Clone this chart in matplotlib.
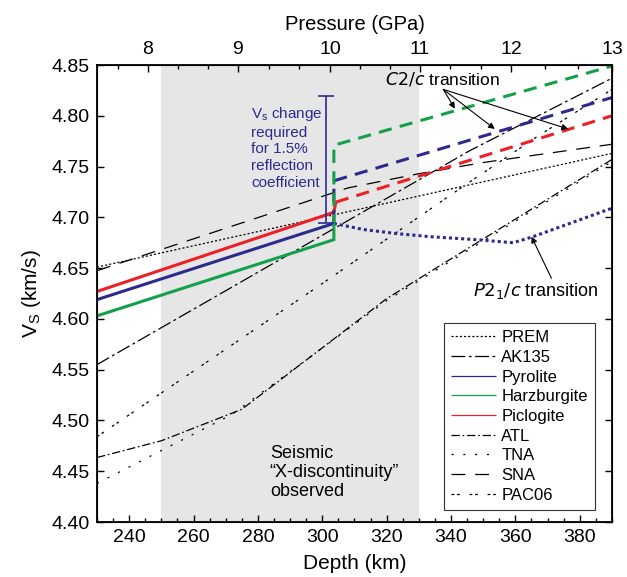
import matplotlib
matplotlib.use("Agg")
import matplotlib.pyplot as plt
import numpy as np

plt.rcParams['font.family'] = ['Liberation Sans', 'DejaVu Sans']
plt.rcParams['mathtext.default'] = 'regular'
plt.rcParams['lines.scale_dashes'] = False

# ---- data (depth km, Vs km/s) ----
prem_d = [230, 390]
prem_v = [4.651, 4.763]
ak135_d = [230, 346, 390]
ak135_v = [4.555, 4.766, 4.837]
atl_d = [230, 250, 275, 320, 390]
atl_v = [4.4635, 4.480, 4.511, 4.620, 4.757]
tna_d = [230, 272, 320, 390]
tna_v = [4.438, 4.506, 4.618, 4.755]
sna_d = [230, 308, 330, 350, 390]
sna_v = [4.6475, 4.729, 4.743, 4.754, 4.772]
pac06_d = [230, 301, 344, 367, 390]
pac06_v = [4.484, 4.637, 4.731, 4.780, 4.826]

pyr_solid_d = [230, 303.6]
pyr_solid_v = [4.619, 4.694]
pyr_c2c_d = [303.6, 303.6, 390]
pyr_c2c_v = [4.694, 4.736, 4.818]
pyr_p21c_d = [303.6, 312.8, 323.1, 333.4, 347.9, 359.3, 365.5, 390]
pyr_p21c_v = [4.694, 4.688, 4.684, 4.681, 4.678, 4.675, 4.681, 4.709]

harz_solid_d = [230, 303.6, 303.6]
harz_solid_v = [4.603, 4.678, 4.690]
harz_c2c_d = [303.6, 303.6, 390]
harz_c2c_v = [4.690, 4.771, 4.849]

pic_solid_d = [230, 303.6, 304.2]
pic_solid_v = [4.627, 4.705, 4.715]
pic_c2c_d = [304.2, 390]
pic_c2c_v = [4.715, 4.800]

errbar_depth = 301.3
errbar_lo, errbar_hi = 4.694, 4.8195

xdisc_lo, xdisc_hi = 250, 330

pressure_labels = [8, 9, 10, 11, 12, 13]
pressure_depths = [245.8, 273.8, 302.4, 330.3, 358.6, 390]

c_blue = '#2d2a8e'
c_green = '#14a04a'
c_red = '#ec2127'

fig = plt.figure(figsize=(6.27, 5.77), dpi=100)
ax = fig.add_axes([0.1547, 0.0953, 0.8213, 0.792])

ax.axvspan(xdisc_lo, xdisc_hi, color='#e6e6e6', lw=0, zorder=0)

k = 'black'
lwk = 0.9
ax.plot(prem_d, prem_v, color=k, lw=lwk, ls=(0, (1.5, 1.5)), label='PREM')
ax.plot(ak135_d, ak135_v, color=k, lw=lwk, ls=(0, (10, 2.5, 2, 2.5)), label='AK135')
ax.plot(pyr_solid_d, pyr_solid_v, color=c_blue, lw=2.2, solid_capstyle='butt', label='Pyrolite')
ax.plot(harz_solid_d, harz_solid_v, color=c_green, lw=2.2, solid_capstyle='butt',
        solid_joinstyle='miter', label='Harzburgite')
ax.plot(pic_solid_d, pic_solid_v, color=c_red, lw=2.2, solid_capstyle='butt', label='Piclogite')
ax.plot(atl_d, atl_v, color=k, lw=lwk, ls=(0, (6, 2, 1.2, 2)), label='ATL')
ax.plot(tna_d, tna_v, color=k, lw=lwk, ls=(0, (1.5, 7)), label='TNA')
ax.plot(sna_d, sna_v, color=k, lw=lwk, ls=(0, (10, 7)), label='SNA')
ax.plot(pac06_d, pac06_v, color=k, lw=lwk, ls=(0, (2, 2, 2, 7)), label='PAC06')

ax.plot(pyr_c2c_d, pyr_c2c_v, color=c_blue, lw=2.2, ls=(0, (9.5, 6)), dash_capstyle='butt')
ax.plot(pyr_p21c_d, pyr_p21c_v, color=c_blue, lw=2.2, ls=(0, (2.2, 2.2)), dash_capstyle='butt')
ax.plot(harz_c2c_d, harz_c2c_v, color=c_green, lw=2.2, ls=(0, (9.5, 6)), dash_capstyle='butt')
ax.plot(pic_c2c_d, pic_c2c_v, color=c_red, lw=2.2, ls=(0, (9.5, 6)), dash_capstyle='butt')

# error bar
ax.errorbar([errbar_depth], [(errbar_lo + errbar_hi) / 2],
            yerr=[[(errbar_hi - errbar_lo) / 2], [(errbar_hi - errbar_lo) / 2]],
            fmt='none', ecolor=c_blue, elinewidth=1.2, capsize=6, capthick=1.2)
ax.text(278, 4.769, 'V$_\\mathregular{s}$ change\nrequired\nfor 1.5%\nreflection\ncoefficient',
        color=c_blue, fontsize=11, va='center', ha='left', linespacing=1.25)

ax.text(283.7, 4.4484, 'Seismic\n\u201cX-discontinuity\u201d\nobserved', fontsize=13,
        va='center', ha='left', linespacing=1.15)

# C2/c arrows
start = (337.6, 4.826)
for end in [(341.2, 4.807), (353.6, 4.787), (376.4, 4.787)]:
    ax.annotate('', xy=end, xytext=start,
                arrowprops=dict(arrowstyle='-|>', color='black', lw=0.8,
                                mutation_scale=9, shrinkA=0, shrinkB=0))
ax.text(337.3, 4.836, '$\\it{C2/c}$ transition', fontsize=12.5, ha='center', va='center')

ax.annotate('', xy=(365, 4.681), xytext=(371.2, 4.640),
            arrowprops=dict(arrowstyle='-|>', color='black', lw=0.8,
                            mutation_scale=9, shrinkA=0, shrinkB=0))
ax.text(366.3, 4.627, '$\\it{P2_1/c}$ transition', fontsize=13, ha='center', va='center')

ax.set_xlim(230, 390)
ax.set_ylim(4.40, 4.85)
ax.set_xticks(range(240, 390, 20))
ax.set_xticks(range(230, 391, 5), minor=True)
ax.set_yticks([4.40 + 0.05 * i for i in range(10)])
ax.set_yticklabels(['%.2f' % (4.40 + 0.05 * i) for i in range(10)])
ax.tick_params(axis='both', which='both', direction='in', labelsize=14,
               top=False, right=True, width=1)
ax.tick_params(which='major', length=5, pad=5)
ax.tick_params(which='minor', length=3)
for s in ax.spines.values():
    s.set_linewidth(1.3)

ax.set_xlabel('Depth (km)', fontsize=15, labelpad=6)
ax.set_ylabel('V$_\\mathregular{S}$ (km/s)', fontsize=15, labelpad=6)

ax2 = ax.twiny()
ax2.set_xlim(ax.get_xlim())
ax2.set_xticks(pressure_depths)
ax2.set_xticklabels([str(p) for p in pressure_labels])
p_minor = np.arange(7 + 2 / 3, 13.01, 1 / 3)
ax2.set_xticks(np.interp(p_minor, pressure_labels, pressure_depths,
                         left=pressure_depths[0] - (pressure_depths[1] - pressure_depths[0]) / 3),
               minor=True)
ax2.tick_params(axis='x', which='both', direction='in', labelsize=14, width=1, pad=5)
ax2.tick_params(axis='x', which='major', length=5)
ax2.tick_params(axis='x', which='minor', length=3)
ax2.set_xlabel('Pressure (GPa)', fontsize=14.5, labelpad=8)

leg = ax.legend(handles=ax.get_lines()[:9], loc='lower right', bbox_to_anchor=(0.984, 0.008),
                fontsize=12, frameon=True, fancybox=False, edgecolor='black',
                handlelength=2.7, handletextpad=0.3, labelspacing=0.28, borderpad=0.45)
leg.get_frame().set_linewidth(0.8)
for l in leg.get_lines():
    l.set_linewidth(0.9)

fig.savefig('out.png', dpi=100)
